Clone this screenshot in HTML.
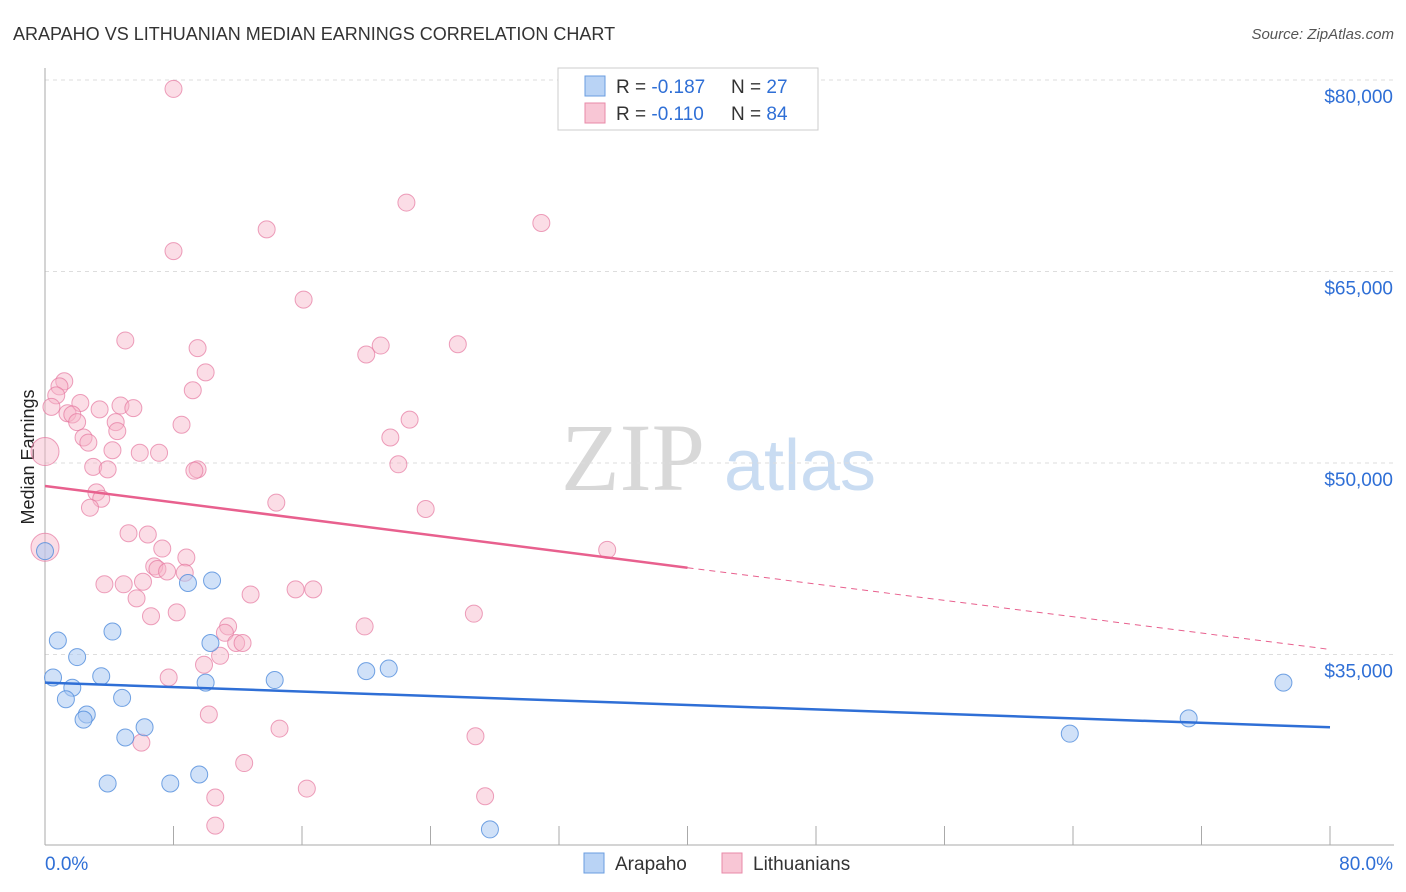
<!DOCTYPE html>
<html><head><meta charset="utf-8"><style>
body{margin:0;background:#fff;font-family:"Liberation Sans",sans-serif;}
svg{display:block}
</style></head><body>
<svg width="1406" height="892" viewBox="0 0 1406 892" xmlns="http://www.w3.org/2000/svg">
<text x="13" y="40" font-size="18" fill="#333">ARAPAHO VS LITHUANIAN MEDIAN EARNINGS CORRELATION CHART</text>
<text x="1394" y="39" font-size="15" fill="#555" font-style="italic" text-anchor="end">Source: ZipAtlas.com</text>
<g>
<text x="633" y="490" font-size="96" fill="#d8d8d8" font-family="Liberation Serif,serif" text-anchor="middle">ZIP</text>
<text x="800" y="490" font-size="72" fill="#c9dcf2" text-anchor="middle">atlas</text>
</g>
<g id="grid"></g>
<line x1="45" y1="68" x2="45" y2="845" stroke="#aaa"/>
<line x1="45" y1="845" x2="1394" y2="845" stroke="#aaa"/>
<g id="ticks"></g>
<g id="ylabels"></g>
<text transform="translate(34,457) rotate(-90)" font-size="18" fill="#222" text-anchor="middle">Median Earnings</text>
<text x="45" y="870" font-size="19" fill="#2f6fd6">0.0%</text>
<text x="1393" y="870" font-size="19" fill="#2f6fd6" text-anchor="end">80.0%</text>
<g id="pink"></g>
<g id="blue"></g>
<g id="trends"></g>
<g>
<rect x="558" y="68" width="260" height="62" fill="#fff" stroke="#ccc"/>
<rect x="585" y="76" width="20" height="20" fill="#b9d3f5" stroke="#6a9de0"/>
<rect x="585" y="103" width="20" height="20" fill="#f8c6d5" stroke="#e88aa8"/>
<text x="616" y="93" font-size="19" fill="#333">R = <tspan fill="#2f6fd6">-0.187</tspan></text>
<text x="731" y="93" font-size="19" fill="#333">N = <tspan fill="#2f6fd6">27</tspan></text>
<text x="616" y="120" font-size="19" fill="#333">R = <tspan fill="#2f6fd6">-0.110</tspan></text>
<text x="731" y="120" font-size="19" fill="#333">N = <tspan fill="#2f6fd6">84</tspan></text>
</g>
<g>
<rect x="584" y="853" width="20" height="20" fill="#b9d3f5" stroke="#6a9de0"/>
<text x="615" y="870" font-size="19" fill="#333">Arapaho</text>
<rect x="722" y="853" width="20" height="20" fill="#f8c6d5" stroke="#e88aa8"/>
<text x="753" y="870" font-size="19" fill="#333">Lithuanians</text>
</g>
</svg>
<script>
const yTicks=[80000,65000,50000,35000];
const yTickLabels=["$80,000","$65,000","$50,000","$35,000"];
const xTicks=[0,8,16,24,32,40,48,56,64,72,80];
const blueX=[0,0.8,0.5,2.0,1.7,1.3,3.5,2.6,2.4,4.2,4.8,5.0,6.2,3.9,7.8,9.6,8.9,10.4,10.3,10.0,14.3,20.0,21.4,27.7,63.8,71.2,77.1];
const blueY=[43.1,36.1,33.2,34.8,32.4,31.5,33.3,30.3,29.9,36.8,31.6,28.5,29.3,24.9,24.9,25.6,40.6,40.8,35.9,32.8,33.0,33.7,33.9,21.3,28.8,30.0,32.8];
const pinkX=[8.0,8.0,13.8,22.5,30.9,16.1,5.0,9.5,20.9,25.7,20.0,10.0,1.2,0.9,0.7,9.2,2.2,0.4,3.4,4.7,5.5,1.4,1.7,2.0,4.4,8.5,22.7,4.5,2.4,2.7,21.5,0,4.2,5.9,7.1,3.0,3.9,9.5,9.3,22.0,3.2,3.5,2.8,14.4,23.7,5.2,6.4,7.3,35.0,8.8,6.8,7.0,7.6,8.7,3.7,4.9,6.1,12.8,15.6,16.7,5.7,6.6,8.2,26.7,11.4,19.9,11.2,11.9,12.3,10.9,9.9,7.7,10.2,14.6,6.0,26.8,12.4,16.3,10.6,27.4,10.6,0];
const pinkY=[79.3,66.6,68.3,70.4,68.8,62.8,59.6,59.0,59.2,59.3,58.5,57.1,56.4,56.0,55.3,55.7,54.7,54.4,54.2,54.5,54.3,53.9,53.8,53.2,53.2,53.0,53.4,52.5,52.0,51.6,52.0,50.9,51.0,50.8,50.8,49.7,49.5,49.5,49.4,49.9,47.7,47.2,46.5,46.9,46.4,44.5,44.4,43.3,43.2,42.6,41.9,41.7,41.5,41.4,40.5,40.5,40.7,39.7,40.1,40.1,39.4,38.0,38.3,38.2,37.2,37.2,36.7,35.9,35.9,34.9,34.2,33.2,30.3,29.2,28.1,28.6,26.5,24.5,23.8,23.9,21.6,43.4];
const pinkBig=[31,81];
const blueTrend=[32.8,29.3];
const pinkTrend=[48.2,35.4];
const NS="http://www.w3.org/2000/svg";
const X=p=>45+p*16.0625;
const Y=k=>80+(80-k)*12.767;
function mk(t,a,parent){const e=document.createElementNS(NS,t);for(const k in a)e.setAttribute(k,a[k]);document.getElementById(parent).appendChild(e);return e;}
yTicks.forEach((v,i)=>{
 const l=mk('line',{x1:45,x2:1394,y1:Y(v/1000),y2:Y(v/1000),stroke:'#ddd','stroke-dasharray':'4,4'},'grid');
 
 
 const t=mk('text',{x:1393,y:Y(v/1000)+23,'font-size':19,fill:'#2f6fd6','text-anchor':'end'},'ylabels');
 t.textContent=yTickLabels[i];
 
 
});
xTicks.forEach(v=>{
 const l=mk('line',{x1:X(v),x2:X(v),y1:826,y2:845,stroke:'#aaa'},'ticks');
 
 
});
pinkX.forEach((x,i)=>{
 const big=pinkBig.includes(i);
 const c=mk('circle',{cx:X(x),cy:Y(pinkY[i]),r:big?14:8.5,fill:'rgba(246,180,200,0.45)',stroke:'rgba(230,120,160,0.7)','stroke-width':1},'pink');
 
 
});
blueX.forEach((x,i)=>{
 const c=mk('circle',{cx:X(x),cy:Y(blueY[i]),r:8.5,fill:'rgba(170,200,242,0.55)',stroke:'rgba(80,140,220,0.8)','stroke-width':1},'blue');
 
 
});
const bt=mk('line',{x1:X(0),y1:Y(blueTrend[0]),x2:X(80),y2:Y(blueTrend[1]),stroke:'#2f6fd6','stroke-width':2.5},'trends');


const pm=pinkTrend[0]+(pinkTrend[1]-pinkTrend[0])*0.5;
const pt=mk('line',{x1:X(0),y1:Y(pinkTrend[0]),x2:X(40),y2:Y(pm),stroke:'#e8608e','stroke-width':2.5},'trends');


const pd=mk('line',{x1:X(40),y1:Y(pm),x2:X(80),y2:Y(pinkTrend[1]),stroke:'#e8608e','stroke-width':1,'stroke-dasharray':'6,5'},'trends');


</script>
</body></html>
